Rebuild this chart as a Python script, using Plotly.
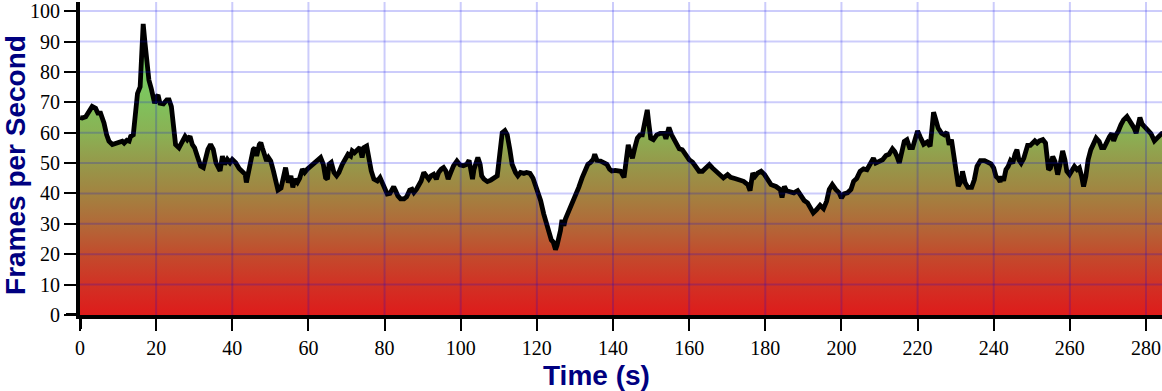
import plotly.graph_objects as go

# ---- data ----
time_s = [
    0.0, 0.6, 1.5, 2.4, 3.2, 4.1, 4.7, 5.4, 6.3, 7.0, 7.6, 8.5, 9.8, 11.1, 11.6, 12.3, 12.9, 13.3, 14.0, 14.6,
    15.1, 15.8, 16.2, 16.6, 17.1, 17.5, 18.1, 18.7, 19.3, 19.6, 20.1, 20.5, 21.0, 21.9, 22.8, 23.4, 24.0, 24.5,
    25.1, 26.0, 26.9, 27.6, 28.2, 28.9, 29.5, 30.1, 30.8, 31.7, 32.4, 33.0, 33.6, 34.3, 35.0, 35.7, 36.3, 36.8,
    37.4, 38.0, 38.7, 39.4, 40.0, 40.9, 41.8, 42.7, 43.4, 43.7, 44.2, 44.9, 45.5, 45.9, 46.4, 47.1,
    47.5, 47.9, 48.6, 49.0, 49.5, 50.1, 50.8, 51.4, 52.0, 52.8, 53.4, 54.0, 54.7, 55.4, 55.9, 56.4, 57.1, 57.7,
    58.4, 59.0, 59.7, 60.6, 61.5, 62.5, 63.2, 63.9, 64.5, 65.0, 65.4, 66.0, 66.7, 67.4, 68.0, 68.9, 69.8, 70.4,
    71.1, 71.5, 72.1, 72.8, 73.5, 74.1, 74.6, 75.3, 75.9, 76.5, 77.2, 78.1, 78.8, 79.4, 80.0, 80.7, 81.4, 82.0,
    82.4, 82.9, 83.5, 84.2, 85.1, 85.8, 86.6, 87.2, 87.7, 88.4, 89.0, 89.6, 90.3, 91.0, 91.6, 92.2, 92.9, 93.6,
    94.2, 94.9, 95.5, 96.1, 96.7, 97.4, 98.1, 99.0, 99.8, 100.7, 101.6, 102.2, 102.6, 103.1, 103.5, 103.9,
    104.5, 105.1, 105.5, 106.1, 107.0, 107.9, 108.7, 109.6, 110.0, 110.5, 110.9, 111.6, 112.2, 112.9, 113.5,
    114.4, 115.0, 115.7, 116.6, 117.3, 118.2, 119.0, 120.1, 121.0, 121.8, 122.5, 123.1, 123.8, 124.3, 124.9,
    125.3, 125.8, 126.2, 126.6, 127.1, 127.5, 128.4, 129.3, 130.1, 131.0, 131.9, 132.8, 133.4, 134.1, 134.8,
    135.2, 135.8, 136.7, 137.6, 138.4, 139.1, 139.7, 140.6,
    141.5, 142.0, 142.9, 143.5, 144.0, 144.6, 145.1, 145.7, 146.4, 147.1, 147.7, 148.3, 149.0, 149.4, 149.9,
    150.6, 151.5, 152.4, 153.4, 153.9, 154.3, 154.7, 155.4, 156.1, 156.8, 157.4, 158.2, 159.1, 160.0, 160.9,
    161.8, 162.6, 163.5, 164.4, 165.3, 166.1, 167.0, 167.9, 169.0, 170.1, 170.9, 172.0, 173.1, 174.3, 175.4,
    176.0, 176.7, 177.3, 178.0, 178.9, 179.8, 180.6, 181.5, 182.8, 183.9, 184.4, 185.0, 185.6, 186.6, 187.5,
    188.5,
    189.3, 190.2, 191.1, 191.9, 192.6, 193.5, 194.4, 195.3, 196.1, 196.8, 197.6, 198.5, 199.4, 200.0, 200.7,
    201.6, 202.5, 203.2, 204.0, 204.9, 205.8, 206.7, 207.5, 208.4, 209.0, 209.9, 210.8, 211.7, 212.5, 213.4,
    214.0, 214.6, 215.2, 215.8, 216.5, 217.2, 217.9, 218.7, 219.3, 220.0, 220.7, 221.6, 222.5, 223.3, 223.8,
    224.2, 224.8, 225.4, 226.3, 227.0, 227.7, 228.3, 228.9, 229.5, 230.1, 230.7, 231.4, 231.8, 232.5, 233.2,
    234.2, 234.9, 235.6,
    236.5, 237.6, 238.4, 239.3, 240.0, 240.6, 241.2, 241.7, 242.1, 242.6, 243.2, 243.8, 244.4, 245.0, 245.6,
    246.1, 246.6, 247.2, 247.9, 248.5, 248.9, 249.6, 250.2, 250.8, 251.4, 252.0, 252.9, 253.6, 254.0, 254.4,
    254.9, 255.5, 256.1, 256.8, 257.5, 258.1, 258.7, 259.2, 259.9, 260.5, 261.2, 261.9, 262.5, 263.1, 263.6,
    264.2, 264.8, 265.5, 266.2, 266.9, 267.7, 268.3, 269.0, 269.7, 270.4, 271.0, 271.5, 272.1, 272.7, 273.4,
    274.1, 275.0, 275.6, 276.2, 276.9, 277.4, 277.8, 278.4, 279.0, 279.6, 280.4, 281.3, 282.2, 283.1, 284.1,
    285.0,
]

fps = [
    65.0, 64.8, 65.2, 67.0, 68.6, 68.0, 66.4, 66.4, 63.2, 59.3, 57.2, 56.1, 56.8, 57.2, 56.6, 57.5, 57.2, 58.8, 59.3, 65.3,
    72.9, 75.1, 86.0, 95.8, 89.2, 82.7, 77.3, 74.6, 71.8, 69.7, 71.8, 72.4, 69.7, 69.5, 70.8, 70.8, 68.6, 61.0,
    56.1, 55.0, 57.2, 58.8, 57.7, 58.8, 56.1, 55.0, 52.3, 49.0, 48.5, 51.2, 54.5, 56.1, 54.5, 50.1, 49.0, 47.4,
    52.3, 49.6, 51.2, 50.1, 51.2, 50.1, 48.2, 47.4, 46.3, 43.6, 46.8, 50.1, 54.5, 55.0, 52.3, 56.1,
    56.7, 55.0, 52.9, 50.7, 51.8, 50.7, 47.4, 43.6, 41.1, 41.8, 45.2, 48.5, 43.6, 45.8, 42.0, 44.7, 43.6, 45.0,
    48.0, 46.9, 48.0, 49.1, 50.2, 51.2, 51.8, 49.6, 45.2, 44.7, 49.6, 50.2, 46.9, 45.8, 46.9, 49.6, 51.8, 52.9,
    52.3, 54.0, 53.4, 54.5, 55.1, 51.8, 55.1, 55.6, 50.7, 47.4, 44.7, 44.1, 45.2, 43.6, 41.4, 39.8, 40.0, 41.8,
    42.2, 40.9, 39.2, 38.2, 38.2, 38.9, 41.1, 41.4, 40.3, 41.4, 42.5, 44.1, 46.9, 45.8, 44.7, 45.8, 46.3, 44.7,
    46.9, 48.0, 48.5, 47.4, 44.7, 46.9, 49.1, 50.7, 49.4, 49.1, 49.6, 50.9, 48.0, 44.7, 48.0, 50.2,
    51.8, 49.6, 45.8, 44.7, 43.9, 44.4, 45.2, 45.8, 50.2, 57.2, 60.0, 60.7, 59.4, 54.5, 49.6,
    46.9, 45.8, 46.9, 46.6, 46.9, 46.6, 45.0, 41.4, 37.6, 33.3, 30.0, 26.7, 24.7, 24.0, 21.5,
    22.9, 25.1, 27.8, 31.3, 29.4, 31.6, 34.3, 36.5, 38.7, 42.0, 45.2, 47.4, 49.6, 50.2, 51.2,
    52.9, 50.9, 50.7, 50.2, 49.6, 48.0, 47.4, 47.6,
    47.4, 47.3, 45.3, 51.6, 56.0, 53.3, 51.6, 54.9, 58.2, 59.3, 59.3, 63.1, 67.5, 63.1, 58.2,
    57.7, 59.3, 59.8, 59.8, 58.0, 59.8, 61.7, 59.3, 57.7, 55.5, 54.7, 54.4, 52.7, 51.1, 50.3,
    48.6, 47.3, 47.3, 48.6, 49.5, 48.4, 47.3, 46.4, 45.1, 46.2, 45.3, 44.9, 44.5, 44.0, 42.9,
    40.9, 46.7, 45.6, 46.7, 47.3, 46.2, 44.5, 42.9, 42.3, 41.3, 38.7, 42.3, 40.9, 40.7, 40.2,
    40.9,
    39.6, 37.7, 36.9, 34.7, 33.6, 34.7, 36.1, 35.0, 37.4, 41.3, 42.9, 41.3, 40.2, 38.5, 39.9,
    40.2, 41.3, 44.0, 44.9, 47.3, 48.1, 47.8, 49.7, 51.6, 50.0, 50.5, 51.1, 52.5, 52.9, 54.7,
    53.8, 52.2, 50.0, 53.3, 57.1, 57.7, 55.1, 55.1, 58.4, 60.6, 58.6, 56.2, 56.9, 55.5, 61.5,
    66.7, 64.2, 61.5, 59.8, 59.3, 60.1, 56.0, 57.7, 52.2, 49.5, 42.4, 44.0, 47.3, 43.5, 42.0,
    42.0, 44.5, 48.9,
    50.8, 50.8, 50.3, 49.7, 48.4, 45.6, 44.9, 43.8, 45.6, 44.2, 47.8, 48.9, 50.8, 50.0, 53.0,
    54.4, 51.1, 50.0, 51.6, 53.8, 55.8, 55.8, 56.6, 57.3, 56.6, 57.3, 57.7, 56.6, 52.2, 47.8,
    48.4, 52.2, 50.5, 46.2, 50.0, 54.0, 51.1, 47.3, 46.2, 47.5, 48.9, 47.8, 48.4, 45.6, 42.3,
    45.6, 51.1, 54.4, 56.6, 58.2, 57.1, 55.1, 55.1, 57.1, 58.7, 59.8, 57.3, 59.3, 60.4, 62.6,
    64.2, 65.3, 64.2, 62.8, 61.5, 59.8, 62.8, 65.0, 62.8, 61.9, 61.1, 59.7, 57.3, 58.4, 59.7,
    60.0,
]

x_ticks = [0, 20, 40, 60, 80, 100, 120, 140, 160, 180, 200, 220, 240, 260, 280]
y_ticks = [0, 10, 20, 30, 40, 50, 60, 70, 80, 90, 100]
x_title = "Time (s)"
y_title = "Frames per Second"

# ---- styling ----
W, H = 1162, 391
ML, MR, MT, MB = 80, 0, 0, 76
plot_w, plot_h = W - ML - MR, H - MT - MB
grid_color = "rgba(0,0,235,0.2)"
tick_font = dict(family="Liberation Serif, Times New Roman, serif", size=20, color="black")
title_font = dict(family="Liberation Sans, Arial, sans-serif", size=28, color="#000080")

fig = go.Figure()
fig.add_trace(go.Scatter(
    x=time_s, y=fps, mode="lines",
    line=dict(color="black", width=4.8),
    fill="tozeroy",
    fillgradient=dict(
        type="vertical", start=0, stop=100,
        colorscale=[
            [0.0, "rgb(223,26,26)"],
            [0.1, "rgb(210,48,36)"],
            [0.2, "rgb(195,74,44)"],
            [0.3, "rgb(178,104,56)"],
            [0.4, "rgb(163,130,64)"],
            [0.5, "rgb(150,152,74)"],
            [0.6, "rgb(138,177,84)"],
            [0.7, "rgb(128,193,92)"],
            [0.8, "rgb(120,205,98)"],
            [1.0, "rgb(104,224,106)"],
        ],
    ),
    hoverinfo="skip",
))

shapes = []
# grid lines drawn above the filled area (as in the reference)
for t in x_ticks[1:]:
    shapes.append(dict(type="line", xref="x", yref="paper", x0=t, x1=t, y0=0, y1=1,
                       line=dict(color=grid_color, width=2), layer="above"))
for t in y_ticks[1:]:
    shapes.append(dict(type="line", xref="paper", yref="y", x0=0, x1=1, y0=t, y1=t,
                       line=dict(color=grid_color, width=2), layer="above"))
# outer ends of the axis lines at the origin
shapes.append(dict(type="line", xref="x", yref="paper", x0=0, x1=0, y0=0, y1=-14 / plot_h,
                   line=dict(color="black", width=4), layer="above"))
shapes.append(dict(type="line", xref="paper", yref="y", x0=-14 / plot_w, x1=0, y0=0, y1=0,
                   line=dict(color="black", width=4), layer="above"))

fig.update_layout(
    width=W, height=H,
    margin=dict(l=ML, r=MR, t=MT, b=MB),
    paper_bgcolor="white", plot_bgcolor="white",
    showlegend=False,
    shapes=shapes,
    xaxis=dict(range=[0, 284.2], tickvals=x_ticks, showgrid=False, zeroline=False,
               showline=True, linecolor="black", linewidth=4,
               ticks="outside", ticklen=12, tickwidth=2, tickcolor="black",
               tickfont=tick_font, ticklabeloverflow="allow"),
    yaxis=dict(range=[0, 103], tickvals=y_ticks, showgrid=False, zeroline=False,
               showline=True, linecolor="black", linewidth=4,
               ticks="outside", ticklen=12, tickwidth=2, tickcolor="black",
               tickfont=tick_font, ticklabeloverflow="allow"),
    annotations=[
        dict(text=f"<b>{x_title}</b>", xref="paper", yref="paper",
             x=(596 - ML) / plot_w, y=-(376 - plot_h) / plot_h,
             xanchor="center", yanchor="middle", showarrow=False, font=title_font),
        dict(text=f"<b>{y_title}</b>", xref="paper", yref="paper",
             x=(16 - ML) / plot_w, y=(plot_h - 164) / plot_h, textangle=-90,
             xanchor="center", yanchor="middle", showarrow=False, font=title_font),
    ],
)

fig.write_html("out.html")
